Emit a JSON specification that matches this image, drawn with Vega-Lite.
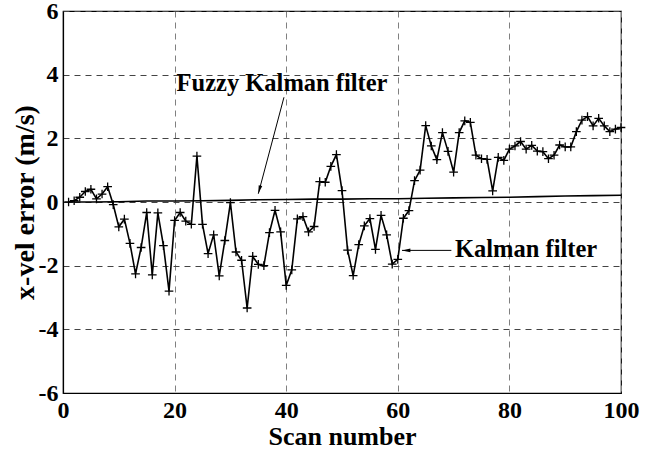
{
  "$schema": "https://vega.github.io/schema/vega-lite/v6.json",
  "width": 558,
  "height": 382,
  "autosize": {"type": "none"},
  "padding": {"left": 63, "top": 11, "right": 40, "bottom": 59},
  "background": "white",
  "config": {
    "view": {"stroke": "black", "strokeWidth": 1.2},
    "font": "Liberation Serif",
    "axis": {
      "labelFont": "Liberation Serif",
      "labelFontWeight": "bold",
      "labelFontSize": 24,
      "labelColor": "black",
      "titleFont": "Liberation Serif",
      "titleFontWeight": "bold",
      "titleFontSize": 26,
      "titleColor": "black",
      "domainColor": "black",
      "domainWidth": 1.2,
      "ticks": false,
      "gridDash": [6, 5],
      "gridWidth": 1,
      "labelExpr": "datum.value < 0 ? '-' + abs(datum.value) : '' + datum.value"
    }
  },
  "datasets": {
    "curves": [
      {"scan": 1, "err": 0.0, "series": "Kalman filter"},
      {"scan": 2, "err": 0.04, "series": "Kalman filter"},
      {"scan": 3, "err": 0.15, "series": "Kalman filter"},
      {"scan": 4, "err": 0.33, "series": "Kalman filter"},
      {"scan": 5, "err": 0.4, "series": "Kalman filter"},
      {"scan": 6, "err": 0.1, "series": "Kalman filter"},
      {"scan": 7, "err": 0.25, "series": "Kalman filter"},
      {"scan": 8, "err": 0.48, "series": "Kalman filter"},
      {"scan": 9, "err": -0.08, "series": "Kalman filter"},
      {"scan": 10, "err": -0.78, "series": "Kalman filter"},
      {"scan": 11, "err": -0.54, "series": "Kalman filter"},
      {"scan": 12, "err": -1.3, "series": "Kalman filter"},
      {"scan": 13, "err": -2.26, "series": "Kalman filter"},
      {"scan": 14, "err": -1.43, "series": "Kalman filter"},
      {"scan": 15, "err": -0.33, "series": "Kalman filter"},
      {"scan": 16, "err": -2.29, "series": "Kalman filter"},
      {"scan": 17, "err": -0.34, "series": "Kalman filter"},
      {"scan": 18, "err": -1.37, "series": "Kalman filter"},
      {"scan": 19, "err": -2.8, "series": "Kalman filter"},
      {"scan": 20, "err": -0.58, "series": "Kalman filter"},
      {"scan": 21, "err": -0.33, "series": "Kalman filter"},
      {"scan": 22, "err": -0.6, "series": "Kalman filter"},
      {"scan": 23, "err": -0.7, "series": "Kalman filter"},
      {"scan": 24, "err": 1.44, "series": "Kalman filter"},
      {"scan": 25, "err": -0.7, "series": "Kalman filter"},
      {"scan": 26, "err": -1.62, "series": "Kalman filter"},
      {"scan": 27, "err": -1.03, "series": "Kalman filter"},
      {"scan": 28, "err": -2.32, "series": "Kalman filter"},
      {"scan": 29, "err": -1.21, "series": "Kalman filter"},
      {"scan": 30, "err": -0.02, "series": "Kalman filter"},
      {"scan": 31, "err": -1.57, "series": "Kalman filter"},
      {"scan": 32, "err": -1.83, "series": "Kalman filter"},
      {"scan": 33, "err": -3.33, "series": "Kalman filter"},
      {"scan": 34, "err": -1.71, "series": "Kalman filter"},
      {"scan": 35, "err": -1.96, "series": "Kalman filter"},
      {"scan": 36, "err": -2.0, "series": "Kalman filter"},
      {"scan": 37, "err": -0.96, "series": "Kalman filter"},
      {"scan": 38, "err": -0.26, "series": "Kalman filter"},
      {"scan": 39, "err": -0.94, "series": "Kalman filter"},
      {"scan": 40, "err": -2.62, "series": "Kalman filter"},
      {"scan": 41, "err": -2.13, "series": "Kalman filter"},
      {"scan": 42, "err": -0.53, "series": "Kalman filter"},
      {"scan": 43, "err": -0.46, "series": "Kalman filter"},
      {"scan": 44, "err": -0.94, "series": "Kalman filter"},
      {"scan": 45, "err": -0.77, "series": "Kalman filter"},
      {"scan": 46, "err": 0.64, "series": "Kalman filter"},
      {"scan": 47, "err": 0.62, "series": "Kalman filter"},
      {"scan": 48, "err": 1.12, "series": "Kalman filter"},
      {"scan": 49, "err": 1.49, "series": "Kalman filter"},
      {"scan": 50, "err": 0.36, "series": "Kalman filter"},
      {"scan": 51, "err": -1.51, "series": "Kalman filter"},
      {"scan": 52, "err": -2.31, "series": "Kalman filter"},
      {"scan": 53, "err": -1.34, "series": "Kalman filter"},
      {"scan": 54, "err": -0.75, "series": "Kalman filter"},
      {"scan": 55, "err": -0.52, "series": "Kalman filter"},
      {"scan": 56, "err": -1.49, "series": "Kalman filter"},
      {"scan": 57, "err": -0.42, "series": "Kalman filter"},
      {"scan": 58, "err": -1.03, "series": "Kalman filter"},
      {"scan": 59, "err": -1.95, "series": "Kalman filter"},
      {"scan": 60, "err": -1.8, "series": "Kalman filter"},
      {"scan": 61, "err": -0.51, "series": "Kalman filter"},
      {"scan": 62, "err": -0.27, "series": "Kalman filter"},
      {"scan": 63, "err": 0.67, "series": "Kalman filter"},
      {"scan": 64, "err": 1.0, "series": "Kalman filter"},
      {"scan": 65, "err": 2.4, "series": "Kalman filter"},
      {"scan": 66, "err": 1.76, "series": "Kalman filter"},
      {"scan": 67, "err": 1.33, "series": "Kalman filter"},
      {"scan": 68, "err": 2.18, "series": "Kalman filter"},
      {"scan": 69, "err": 1.59, "series": "Kalman filter"},
      {"scan": 70, "err": 0.94, "series": "Kalman filter"},
      {"scan": 71, "err": 2.18, "series": "Kalman filter"},
      {"scan": 72, "err": 2.55, "series": "Kalman filter"},
      {"scan": 73, "err": 2.5, "series": "Kalman filter"},
      {"scan": 74, "err": 1.47, "series": "Kalman filter"},
      {"scan": 75, "err": 1.36, "series": "Kalman filter"},
      {"scan": 76, "err": 1.34, "series": "Kalman filter"},
      {"scan": 77, "err": 0.35, "series": "Kalman filter"},
      {"scan": 78, "err": 1.4, "series": "Kalman filter"},
      {"scan": 79, "err": 1.31, "series": "Kalman filter"},
      {"scan": 80, "err": 1.66, "series": "Kalman filter"},
      {"scan": 81, "err": 1.76, "series": "Kalman filter"},
      {"scan": 82, "err": 1.9, "series": "Kalman filter"},
      {"scan": 83, "err": 1.66, "series": "Kalman filter"},
      {"scan": 84, "err": 1.78, "series": "Kalman filter"},
      {"scan": 85, "err": 1.6, "series": "Kalman filter"},
      {"scan": 86, "err": 1.58, "series": "Kalman filter"},
      {"scan": 87, "err": 1.36, "series": "Kalman filter"},
      {"scan": 88, "err": 1.47, "series": "Kalman filter"},
      {"scan": 89, "err": 1.79, "series": "Kalman filter"},
      {"scan": 90, "err": 1.73, "series": "Kalman filter"},
      {"scan": 91, "err": 1.73, "series": "Kalman filter"},
      {"scan": 92, "err": 2.21, "series": "Kalman filter"},
      {"scan": 93, "err": 2.57, "series": "Kalman filter"},
      {"scan": 94, "err": 2.68, "series": "Kalman filter"},
      {"scan": 95, "err": 2.39, "series": "Kalman filter"},
      {"scan": 96, "err": 2.63, "series": "Kalman filter"},
      {"scan": 97, "err": 2.39, "series": "Kalman filter"},
      {"scan": 98, "err": 2.21, "series": "Kalman filter"},
      {"scan": 99, "err": 2.29, "series": "Kalman filter"},
      {"scan": 100, "err": 2.34, "series": "Kalman filter"},
      {"scan": 1, "err": 0.0, "series": "Fuzzy Kalman filter"},
      {"scan": 5, "err": 0.0, "series": "Fuzzy Kalman filter"},
      {"scan": 10, "err": 0.01, "series": "Fuzzy Kalman filter"},
      {"scan": 15, "err": 0.03, "series": "Fuzzy Kalman filter"},
      {"scan": 20, "err": 0.03, "series": "Fuzzy Kalman filter"},
      {"scan": 25, "err": 0.04, "series": "Fuzzy Kalman filter"},
      {"scan": 30, "err": 0.05, "series": "Fuzzy Kalman filter"},
      {"scan": 35, "err": 0.07, "series": "Fuzzy Kalman filter"},
      {"scan": 40, "err": 0.08, "series": "Fuzzy Kalman filter"},
      {"scan": 45, "err": 0.09, "series": "Fuzzy Kalman filter"},
      {"scan": 50, "err": 0.09, "series": "Fuzzy Kalman filter"},
      {"scan": 55, "err": 0.1, "series": "Fuzzy Kalman filter"},
      {"scan": 60, "err": 0.1, "series": "Fuzzy Kalman filter"},
      {"scan": 65, "err": 0.12, "series": "Fuzzy Kalman filter"},
      {"scan": 70, "err": 0.13, "series": "Fuzzy Kalman filter"},
      {"scan": 75, "err": 0.14, "series": "Fuzzy Kalman filter"},
      {"scan": 80, "err": 0.15, "series": "Fuzzy Kalman filter"},
      {"scan": 85, "err": 0.17, "series": "Fuzzy Kalman filter"},
      {"scan": 90, "err": 0.19, "series": "Fuzzy Kalman filter"},
      {"scan": 95, "err": 0.2, "series": "Fuzzy Kalman filter"},
      {"scan": 100, "err": 0.21, "series": "Fuzzy Kalman filter"}
    ]
  },
  "layer": [
    {
      "data": {"name": "curves"},
      "mark": {"type": "line", "color": "black", "strokeWidth": 1.6},
      "encoding": {
        "x": {
          "field": "scan", "type": "quantitative",
          "scale": {"domain": [0, 100], "nice": false},
          "axis": {"values": [0, 20, 40, 60, 80, 100], "title": "Scan number", "grid": true, "gridColor": "#808080", "labelPadding": 5, "labelFlush": false, "titlePadding": 1}
        },
        "y": {
          "field": "err", "type": "quantitative",
          "scale": {"domain": [-6, 6], "nice": false},
          "axis": {"values": [-6, -4, -2, 0, 2, 4, 6], "title": "x-vel error (m/s)", "titleFontSize": 28, "grid": true, "gridColor": "#444444", "labelPadding": 5, "titlePadding": -1}
        },
        "detail": {"field": "series"}
      }
    },
    {
      "data": {"name": "curves"},
      "transform": [{"filter": "datum.series === 'Kalman filter'"}],
      "mark": {"type": "point", "shape": "M-1,0L1,0M0,-1L0,1", "filled": false, "color": "black", "strokeWidth": 1.3, "size": 75, "opacity": 1},
      "encoding": {
        "x": {"field": "scan", "type": "quantitative"},
        "y": {"field": "err", "type": "quantitative"}
      }
    },
    {
      "data": {"values": [
        {"x1": 39.6, "y1": 3.29, "x2": 35.0, "y2": 0.26},
        {"x1": 69.6, "y1": -1.52, "x2": 60.75, "y2": -1.52}
      ]},
      "mark": {"type": "rule", "color": "black", "strokeWidth": 1},
      "encoding": {
        "x": {"field": "x1", "type": "quantitative"},
        "y": {"field": "y1", "type": "quantitative"},
        "x2": {"field": "x2"},
        "y2": {"field": "y2"}
      }
    },
    {
      "data": {"values": [{"x": 35.0, "y": 0.26}]},
      "mark": {"type": "point", "shape": "M0,0L0.35,1.6L-0.35,1.6Z", "filled": true, "color": "black", "size": 110, "angle": 195, "opacity": 1},
      "encoding": {
        "x": {"field": "x", "type": "quantitative"},
        "y": {"field": "y", "type": "quantitative"}
      }
    },
    {
      "data": {"values": [{"x": 60.75, "y": -1.52}]},
      "mark": {"type": "point", "shape": "M0,0L0.35,1.6L-0.35,1.6Z", "filled": true, "color": "black", "size": 110, "angle": 270, "opacity": 1},
      "encoding": {
        "x": {"field": "x", "type": "quantitative"},
        "y": {"field": "y", "type": "quantitative"}
      }
    },
    {
      "data": {"values": [
        {"x": 39.25, "y": 3.7, "label": "Fuzzy Kalman filter"}
      ]},
      "mark": {"type": "text", "font": "Liberation Serif", "fontWeight": "bold", "fontSize": 24.5, "color": "black", "align": "center", "baseline": "middle"},
      "encoding": {
        "x": {"field": "x", "type": "quantitative"},
        "y": {"field": "y", "type": "quantitative"},
        "text": {"field": "label"}
      }
    },
    {
      "data": {"values": [
        {"x": 70.25, "y": -1.52, "label": "Kalman filter"}
      ]},
      "mark": {"type": "text", "font": "Liberation Serif", "fontWeight": "bold", "fontSize": 24.5, "color": "black", "align": "left", "baseline": "middle"},
      "encoding": {
        "x": {"field": "x", "type": "quantitative"},
        "y": {"field": "y", "type": "quantitative"},
        "text": {"field": "label"}
      }
    }
  ]
}
